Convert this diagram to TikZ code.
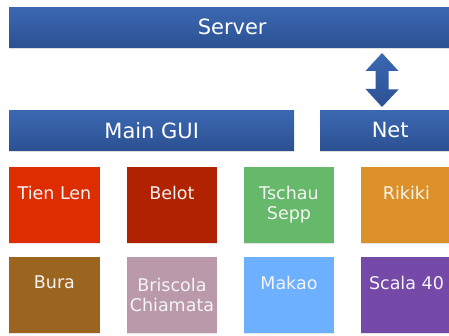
\documentclass[tikz,border=0pt]{standalone}
\usepackage{fontspec}
\setmainfont{DejaVu Sans}
\usetikzlibrary{shadows}
\definecolor{bartop}{HTML}{3B68B2}
\definecolor{barbot}{HTML}{2C5192}
\definecolor{cTien}{HTML}{DE2D00}
\definecolor{cBelot}{HTML}{B02200}
\definecolor{cTschau}{HTML}{66B86A}
\definecolor{cRikiki}{HTML}{DC9128}
\definecolor{cBura}{HTML}{9B6520}
\definecolor{cBriscola}{HTML}{BA9AAA}
\definecolor{cMakao}{HTML}{6CB0FF}
\definecolor{cScala}{HTML}{7549A8}
\definecolor{txt}{HTML}{F4F4F4}
\tikzset{
  bar/.style={rectangle, anchor=north west, inner sep=0pt, top color=bartop, bottom color=barbot,
    text=white, font=\fontsize{21}{24}\selectfont,
    drop shadow={opacity=0.25, shadow xshift=0pt, shadow yshift=-1.5pt}},
  gamebox/.style={rectangle, anchor=north west, inner sep=0pt, minimum width=90.5pt, minimum height=76pt,
    drop shadow={opacity=0.2, shadow xshift=0pt, shadow yshift=-1.2pt}},
  boxtext/.style={anchor=north, inner sep=0pt, yshift=-19pt, text=txt, align=center,
    font=\fontsize{17.5}{20.5}\selectfont},
  duparrow/.style={top color=bartop, bottom color=barbot}
}
\begin{document}
\begin{tikzpicture}[x=1pt,y=-1pt]
\clip (0,0) rectangle (449,336);
\fill[white] (0,0) rectangle (449,336);
\node[bar, minimum width=446pt, minimum height=40pt] (server) at (9,7) {Server};
\node[bar, minimum width=285pt, minimum height=40pt] (gui) at (9,110) {Main GUI};
\node[bar, minimum width=140pt, minimum height=40pt] (net) at (320,110) {Net};
\coordinate (atop) at (382,53);
\coordinate (abot) at (382,107);
\shade[duparrow] (atop) -- ++(16.5,18) -- ++(-10,0) -- (388.5,89.5) -- ++(10,0) -- (abot)
  -- ++(-16.5,-18) -- ++(10,0) -- (375.5,71) -- ++(-10,0) -- cycle;
% row 1
\node[gamebox, fill=cTien, label={[boxtext, name=tTien]north:Tien Len}] (tien) at (9,167) {};
\node[gamebox, fill=cBelot, label={[boxtext, name=tBelot]north:Belot}] (belot) at (126.5,167) {};
\node[gamebox, fill=cTschau, label={[boxtext, name=tTschau]north:Tschau\\Sepp}] (tschau) at (243.5,167) {};
\node[gamebox, fill=cRikiki, label={[boxtext, name=tRikiki]north:Rikiki}] (rikiki) at (361,167) {};
% row 2
\node[gamebox, fill=cBura, label={[boxtext, name=tBura]north:Bura}] (bura) at (9,257) {};
\node[gamebox, fill=cBriscola, label={[boxtext, yshift=-2pt, name=tBriscola]north:Briscola\\Chiamata}] (briscola) at (126.5,257) {};
\node[gamebox, fill=cMakao, label={[boxtext, name=tMakao]north:Makao}] (makao) at (243.5,257) {};
\node[gamebox, fill=cScala, label={[boxtext, name=tScala]north:Scala 40}] (scala) at (361,257) {};
\end{tikzpicture}
\end{document}
